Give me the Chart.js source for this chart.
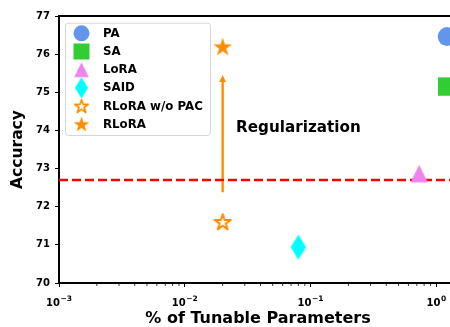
<!DOCTYPE html>
<html><head><meta charset="utf-8">
<script src="https://cdn.jsdelivr.net/npm/chart.js@4/dist/chart.umd.min.js"></script>
<style>html,body{margin:0;padding:0;overflow:hidden;background:#fff;width:450px;height:327px}</style>
</head><body>
<canvas id="c" width="470" height="327" style="width:470px;height:327px;display:block"></canvas>
<script>
// ---- data ----
const methods = ['PA', 'SA', 'LoRA', 'SAID', 'RLoRA w/o PAC', 'RLoRA'];
const paramPct = [1.22, 1.22, 0.73, 0.08, 0.02, 0.02];
const accuracy = [76.46, 75.15, 72.87, 70.94, 71.60, 76.19];
const colors = ['#6495ED', '#32CD32', '#EE82EE', '#00FFFF', '#FF8C00', '#FF8C00'];
const baselineX = [0.001, 1.46];
const baselineAcc = [72.70, 72.70];
const arrowX = [0.02, 0.02];
const arrowY = [72.38, 75.45];
const noteText = 'Regularization';
const notePos = [0.0256, 73.97];
const yTicks = [70, 71, 72, 73, 74, 75, 76, 77];
const xMajor = [0.001, 0.01, 0.1, 1];
const xLabelBase = ['10', '10', '10', '10'];
const xLabelExp = ['−3', '−2', '−1', '0'];

const FONT = 'DejaVu Sans';
Chart.defaults.font.family = FONT;

// ---- marker images ----
function mk(w, h, draw) {
  const c = document.createElement('canvas');
  c.width = w; c.height = h;
  draw(c.getContext('2d'), w / 2, h / 2);
  return c;
}
function starPath(g, cx, cy, R, r) {
  g.beginPath();
  for (let i = 0; i < 10; i++) {
    const a = -Math.PI / 2 + i * Math.PI / 5;
    const rr = i % 2 ? r : R;
    const px = cx + rr * Math.cos(a), py = cy + rr * Math.sin(a);
    i ? g.lineTo(px, py) : g.moveTo(px, py);
  }
  g.closePath();
}
const triImg = mk(20, 20, (g, cx, cy) => {
  g.fillStyle = colors[2]; g.beginPath();
  g.moveTo(cx, cy - 8.8); g.lineTo(cx - 8.6, cy + 8.8); g.lineTo(cx + 8.6, cy + 8.8);
  g.closePath(); g.fill();
});
const diaImg = mk(18, 28, (g, cx, cy) => {
  g.fillStyle = colors[3]; g.beginPath();
  g.moveTo(cx, cy - 12.6); g.lineTo(cx + 7.7, cy); g.lineTo(cx, cy + 12.6); g.lineTo(cx - 7.7, cy);
  g.closePath(); g.fill();
});
const hollowStar = mk(22, 22, (g, cx, cy) => {
  starPath(g, cx, cy + 0.6, 8.4, 8.4 * 0.382);
  g.fillStyle = '#fff'; g.fill();
  g.lineWidth = 2; g.lineJoin = 'round'; g.strokeStyle = colors[4]; g.stroke();
});
const fullStar = mk(22, 22, (g, cx, cy) => {
  starPath(g, cx, cy + 0.6, 9.8, 9.8 * 0.382);
  g.fillStyle = colors[5]; g.fill();
});
const styles = ['circle', 'rect', triImg, diaImg, hollowStar, fullStar];
const radii = [9.5, 13, 10, 10, 10, 10];

const datasets = methods.map((m, i) => ({
  label: m,
  type: 'scatter',
  data: [{ x: paramPct[i], y: accuracy[i] }],
  pointStyle: styles[i],
  pointRadius: radii[i],
  pointHoverRadius: radii[i],
  backgroundColor: colors[i],
  borderColor: colors[i],
  borderWidth: 0,
  clip: false
}));
datasets.push({
  label: 'baseline',
  type: 'line',
  data: baselineX.map((x, i) => ({ x, y: baselineAcc[i] })),
  borderColor: '#FF0000',
  borderWidth: 2.5,
  borderDash: [9, 4],
  pointRadius: 0,
  fill: false
});

const deco = {
  id: 'deco',
  beforeDatasetsDraw(chart) {
    const { ctx, scales: { x, y } } = chart;
    const px = x.getPixelForValue(arrowX[0]);
    const y0 = y.getPixelForValue(arrowY[0]);
    const y1 = y.getPixelForValue(arrowY[1]);
    ctx.save();
    ctx.strokeStyle = '#FF8C00'; ctx.fillStyle = '#FF8C00';
    ctx.lineWidth = 2.4;
    ctx.beginPath(); ctx.moveTo(px, y0); ctx.lineTo(px, y1 + 5); ctx.stroke();
    ctx.beginPath(); ctx.moveTo(px, y1); ctx.lineTo(px - 3.4, y1 + 7); ctx.lineTo(px + 3.4, y1 + 7); ctx.closePath(); ctx.fill();
    ctx.restore();
  },
  afterDraw(chart) {
    const { ctx, chartArea: ca, scales: { x, y } } = chart;
    ctx.save();
    // top spine
    ctx.strokeStyle = '#000'; ctx.lineWidth = 2;
    ctx.beginPath(); ctx.moveTo(ca.left - 1, ca.top); ctx.lineTo(ca.right + 1, ca.top); ctx.stroke();
    // minor ticks
    ctx.lineWidth = 0.8;
    x.ticks.forEach(t => {
      if (xMajor.some(m => Math.abs(m - t.value) / m < 1e-6)) return;
      const p = x.getPixelForValue(t.value);
      ctx.beginPath(); ctx.moveTo(p, ca.bottom + 1); ctx.lineTo(p, ca.bottom + 3); ctx.stroke();
    });
    // x tick labels (10 with superscript exponent)
    ctx.fillStyle = '#000';
    ctx.textBaseline = 'alphabetic'; ctx.textAlign = 'left';
    xMajor.forEach((v, i) => {
      const p = x.getPixelForValue(v);
      ctx.font = 'bold 10px "' + FONT + '"';
      const wb = ctx.measureText(xLabelBase[i]).width;
      ctx.font = 'bold 7.5px "' + FONT + '"';
      const we = ctx.measureText(xLabelExp[i]).width;
      const x0 = p - (wb + we + 0.5) / 2;
      ctx.font = 'bold 10px "' + FONT + '"';
      ctx.fillText(xLabelBase[i], x0, ca.bottom + 22.5);
      ctx.font = 'bold 7.5px "' + FONT + '"';
      ctx.fillText(xLabelExp[i], x0 + wb + 0.5, ca.bottom + 17.5);
    });
    // annotation
    ctx.font = 'bold 15.2px "' + FONT + '"';
    ctx.fillText(noteText, x.getPixelForValue(notePos[0]), y.getPixelForValue(notePos[1]));
    // legend
    const L = { x: 65, y: 22.7, w: 145, h: 112.3 };
    ctx.beginPath();
    ctx.roundRect(L.x + 0.5, L.y + 0.5, L.w, L.h, 3);
    ctx.fillStyle = 'rgba(255,255,255,0.8)'; ctx.fill();
    ctx.strokeStyle = '#d5d5d5'; ctx.lineWidth = 1; ctx.stroke();
    const s = 0.85;
    methods.forEach((m, i) => {
      const cy = 33.3 + i * 18.2, cx = 81.5;
      const st = styles[i];
      ctx.fillStyle = colors[i];
      if (st === 'circle') {
        ctx.beginPath(); ctx.arc(cx, cy, 8, 0, Math.PI * 2); ctx.fill();
      } else if (st === 'rect') {
        ctx.fillRect(cx - 8, cy - 8, 16, 16);
      } else {
        const w = st.width * s, h = st.height * s;
        ctx.drawImage(st, cx - w / 2, cy - h / 2, w, h);
      }
      ctx.fillStyle = '#000';
      ctx.font = 'bold 11.8px "' + FONT + '"';
      ctx.textBaseline = 'middle';
      ctx.fillText(m, 103, cy + 0.5);
    });
    ctx.restore();
  }
};

new Chart(document.getElementById('c'), {
  type: 'scatter',
  data: { datasets },
  plugins: [deco],
  options: {
    responsive: false,
    animation: false,
    devicePixelRatio: 1,
    layout: { padding: { left: 0, top: 16, right: 11, bottom: 0 } },
    plugins: { legend: { display: false }, tooltip: { enabled: false } },
    scales: {
      x: {
        type: 'logarithmic',
        min: 0.001,
        max: 1.46,
        afterBuildTicks: sc => {
          const t = [];
          for (let e = -3; e <= 0; e++) for (let m = 1; m <= 9; m++) {
            const v = +(m * Math.pow(10, e)).toPrecision(6);
            if (v >= sc.min && v <= sc.max) t.push({ value: v });
          }
          sc.ticks = t;
        },
        afterFit: sc => { sc.height = 44; },
        ticks: { display: false, autoSkip: false, maxRotation: 0 },
        grid: {
          drawOnChartArea: false, drawTicks: true, tickLength: 4,
          tickColor: c => (c.tick && xMajor.some(m => Math.abs(m - c.tick.value) / m < 1e-6)) ? '#000' : 'rgba(0,0,0,0)',
          tickWidth: 1
        },
        border: { display: true, color: '#000', width: 2 },
        title: { display: true, text: '% of Tunable Parameters', color: '#000', font: { size: 16, weight: 'bold', lineHeight: 1 }, padding: 0 }
      },
      y: {
        type: 'linear', min: 70, max: 77,
        afterBuildTicks: sc => { sc.ticks = yTicks.map(v => ({ value: v })); },
        afterFit: sc => { sc.width = 59; },
        ticks: { padding: 5, color: '#000', font: { size: 10, weight: 'bold' } },
        grid: { drawOnChartArea: false, drawTicks: true, tickLength: 4, tickColor: '#000', tickWidth: 1 },
        border: { display: true, color: '#000', width: 2 },
        title: { display: true, text: 'Accuracy', color: '#000', font: { size: 15.5, weight: 'bold', lineHeight: 1 }, padding: { top: 10, bottom: 0 } }
      }
    }
  }
});
</script>
</body></html>
